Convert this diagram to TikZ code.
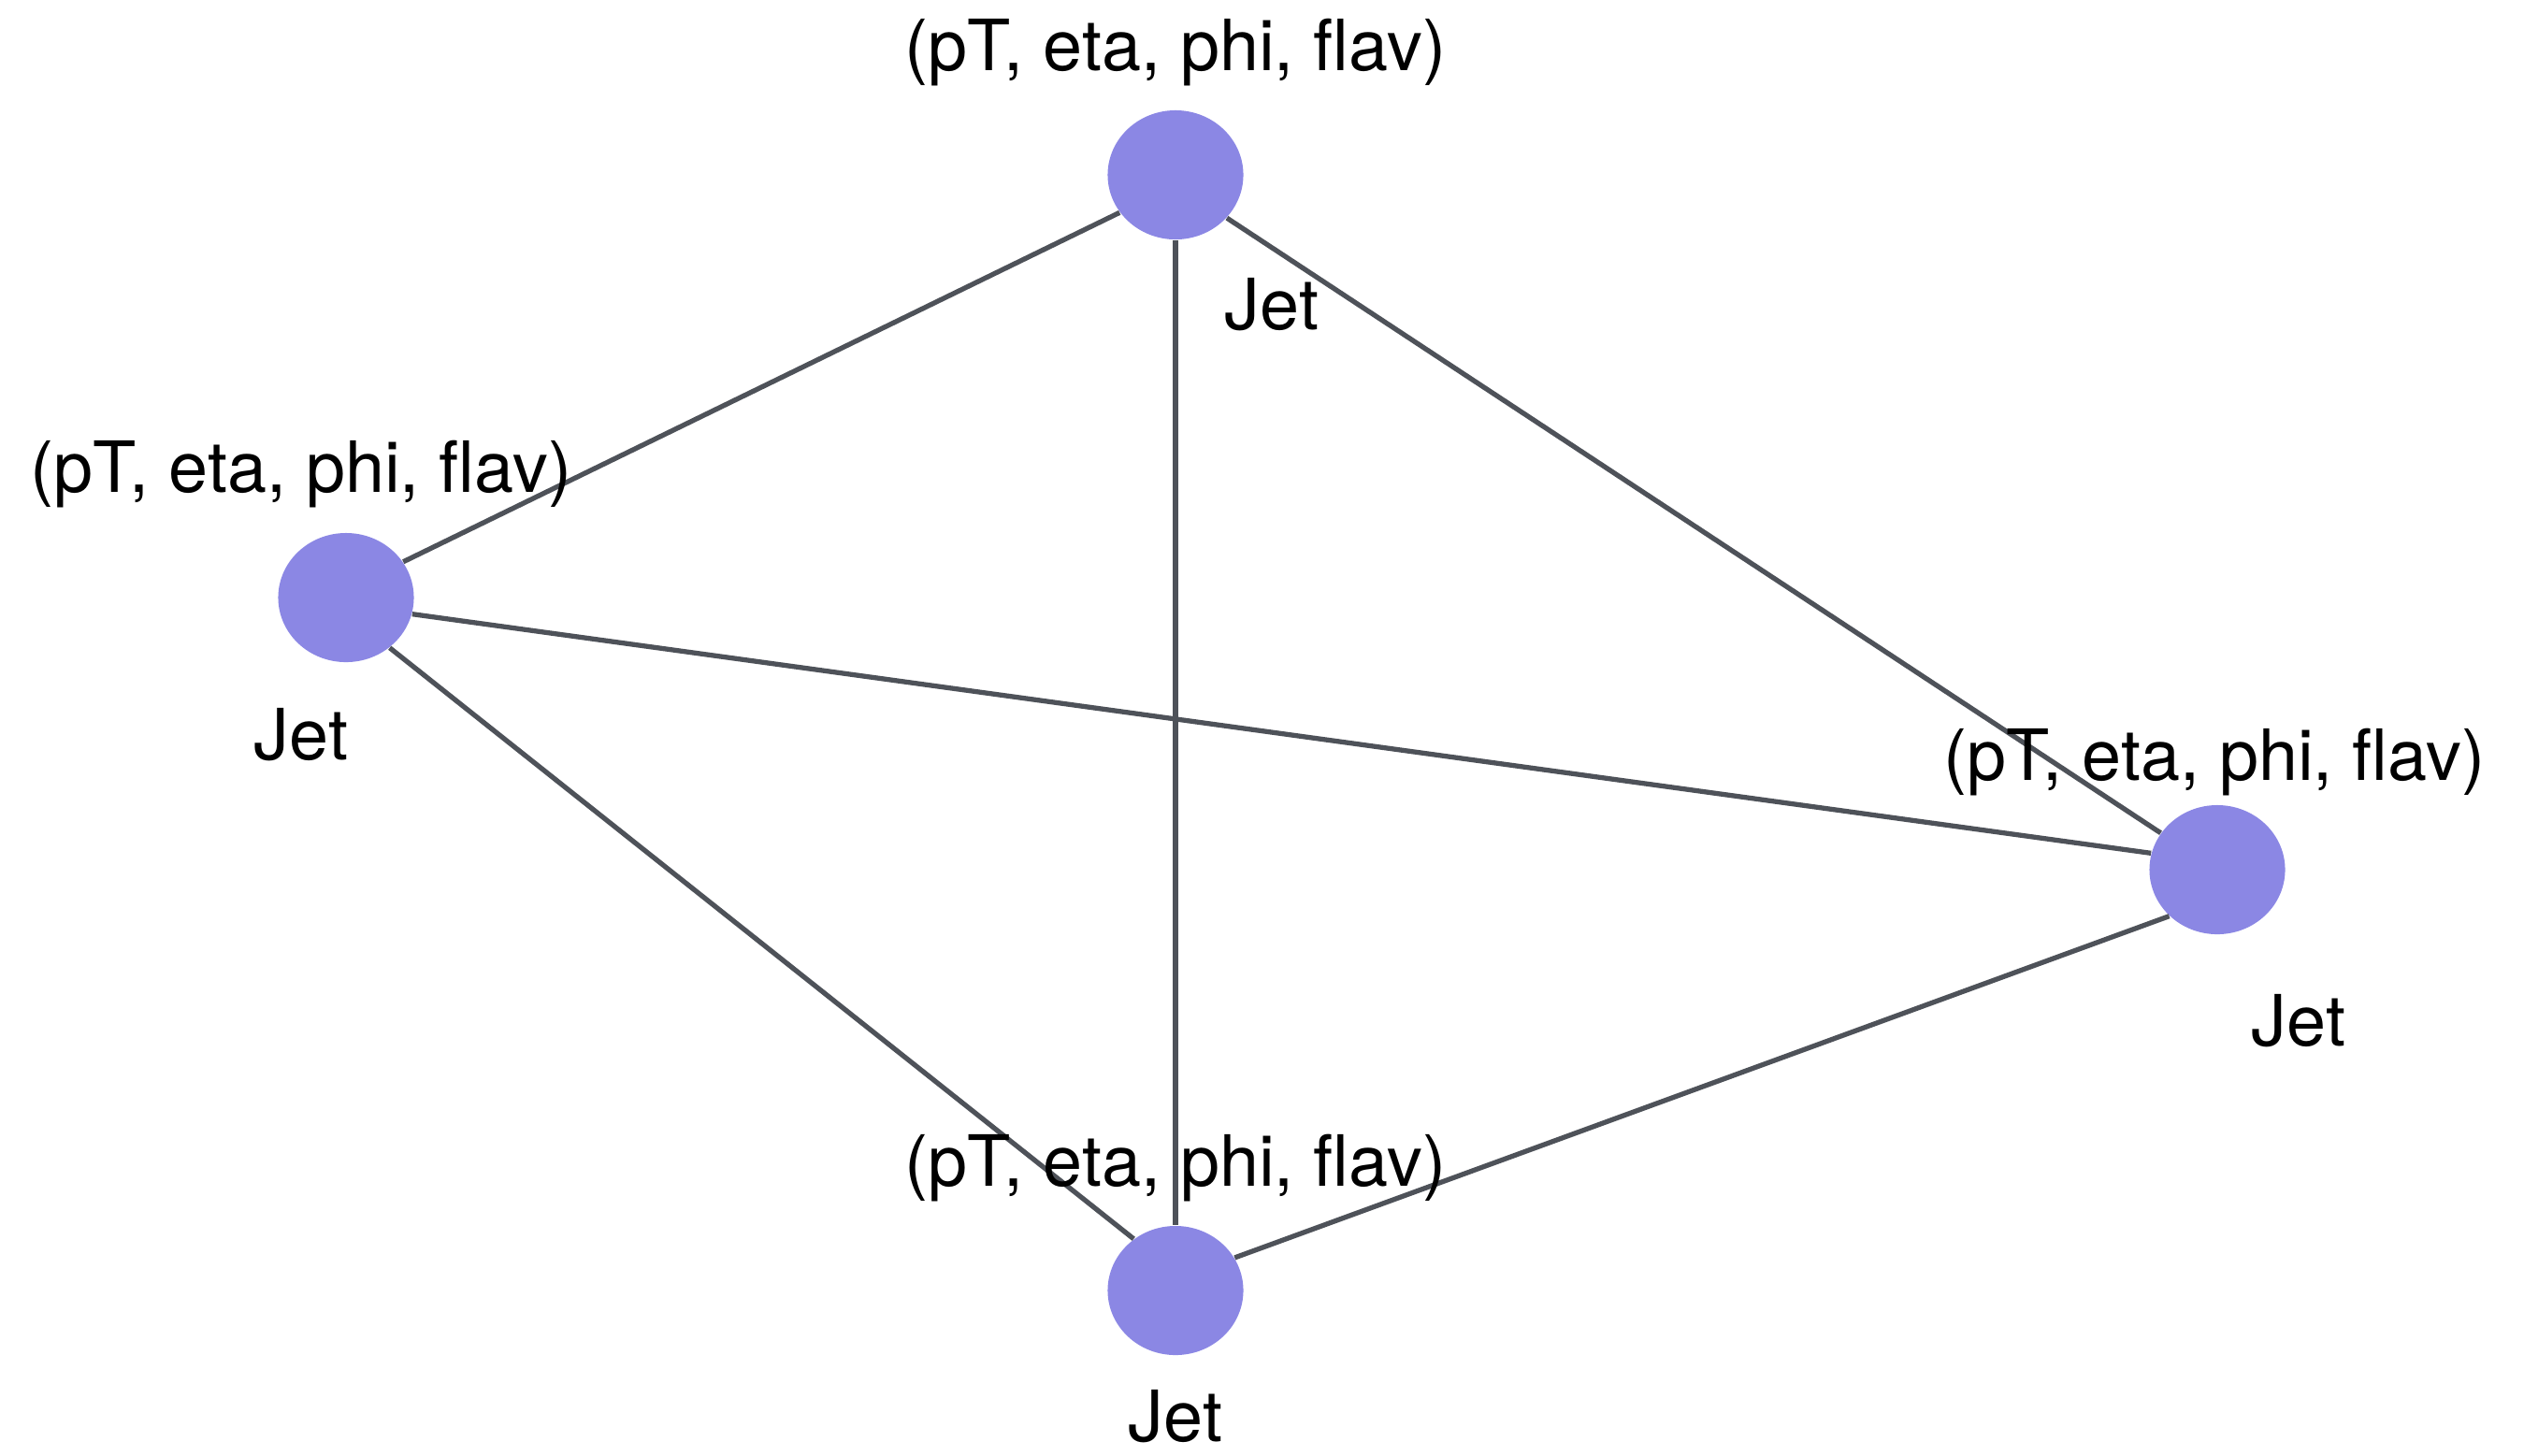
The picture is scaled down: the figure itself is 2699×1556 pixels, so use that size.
\documentclass[tikz,border=0pt]{standalone}
\usepackage{fontspec}
\setmainfont{TeX Gyre Heros}
\usetikzlibrary{shapes.geometric}
\definecolor{jetfill}{RGB}{139,135,228}
\definecolor{edgecol}{RGB}{78,82,89}
\begin{document}
\begin{tikzpicture}[x=0.01cm,y=-0.01cm,
  jet/.style={ellipse,fill=jetfill,draw=none,minimum width=1.45cm,minimum height=1.38cm,inner sep=0pt},
  link/.style={draw=edgecol,line width=1.5pt},
  lbl/.style={anchor=base,inner sep=0pt,font=\fontsize{21.5}{26}\selectfont,text=black}]
\useasboundingbox (0,0) rectangle (2699,1556);
\node[jet] (t) at (1257,187) {};
\node[jet] (l) at (370,639) {};
\node[jet] (r) at (2371,930) {};
\node[jet] (b) at (1257,1380) {};
\draw[link] (t.214) -- (l.32);
\draw[link] (t.270) -- (b.90);
\draw[link] (t.320) -- (r.147);
\draw[link] (l.-14) -- (r.166);
\draw[link] (l.-49) -- (b.129);
\draw[link] (b.29) -- (r.224);
\node[lbl] (tf) at (1257,75) {(pT, eta, phi, flav)};
\node[lbl] (tj) at (1360,352) {Jet};
\node[lbl] (lf) at (322,526) {(pT, eta, phi, flav)};
\node[lbl] (lj) at (322,812) {Jet};
\node[lbl] (rf) at (2368,834) {(pT, eta, phi, flav)};
\node[lbl] (rj) at (2458,1118) {Jet};
\node[lbl] (bf) at (1257,1268) {(pT, eta, phi, flav)};
\node[lbl] (bj) at (1257,1541) {Jet};
\end{tikzpicture}
\end{document}
